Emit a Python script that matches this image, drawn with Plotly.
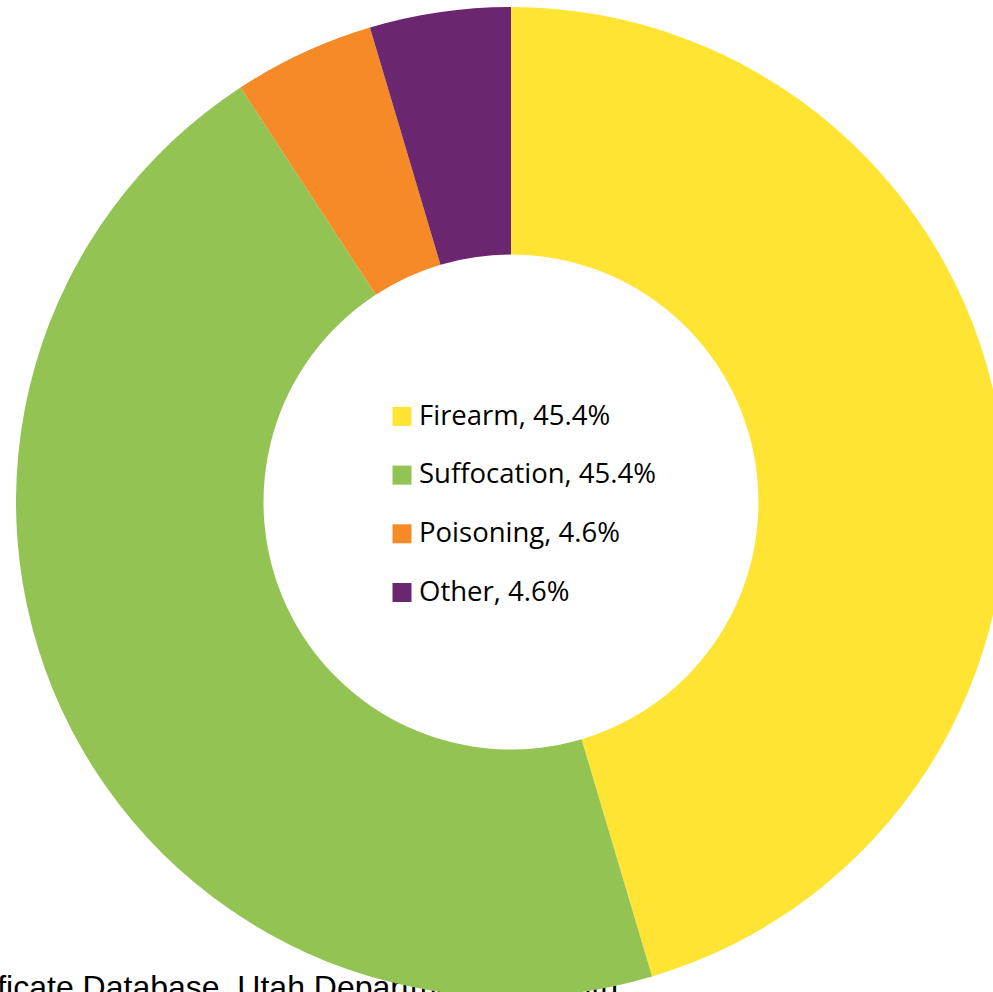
import plotly.graph_objects as go

categories = ["Firearm", "Suffocation", "Poisoning", "Other"]
values = [45.4, 45.4, 4.6, 4.6]
colors = ["#FFE433", "#92C353", "#F58A27", "#6A266E"]
source_text = "Source: Utah Death Certificate Database, Utah Department of Health"

W, H = 1010, 1000

labels = [f"<span style='font-size:27.5px'>{c}, {v}%</span><br> " for c, v in zip(categories, values)]

fig = go.Figure()
fig.add_trace(go.Pie(
    labels=labels,
    values=values,
    marker=dict(colors=colors, line=dict(width=0)),
    hole=0.5,
    sort=False,
    direction="clockwise",
    rotation=0,
    textinfo="none",
    hoverinfo="skip",
    domain=dict(x=[16 / W, 1006 / W], y=[(H - 997) / H, (H - 7) / H]),
))

fig.add_shape(
    type="rect", xref="paper", yref="paper",
    x0=-0.5, x1=621 / W, y0=-0.05, y1=(H - 966) / H,
    line=dict(width=0), fillcolor="rgba(0,0,0,0)", layer="below",
    label=dict(text=source_text, textposition="top right", padding=0,
               font=dict(family="Liberation Sans, Arial", size=32, color="black")),
)

fig.update_layout(
    width=W, height=H,
    margin=dict(l=0, r=0, t=0, b=0),
    paper_bgcolor="white", plot_bgcolor="white",
    showlegend=True,
    legend=dict(
        x=379 / W, xanchor="left", y=(H - 396) / H, yanchor="top",
        font=dict(family="Open Sans", size=21.42, color="black"),
        valign="top", bgcolor="rgba(0,0,0,0)", borderwidth=0,
        traceorder="normal",
    ),
)

post = (
    "document.body.style.margin='0';document.body.style.overflow='hidden';"
    "document.querySelectorAll('.legendpie').forEach(function(e){"
    "e.setAttribute('d','M12.5,9.5H-6.5V-9.5H12.5Z');});"
)
fig.write_html("out.html", config={"displayModeBar": False}, post_script=post)
